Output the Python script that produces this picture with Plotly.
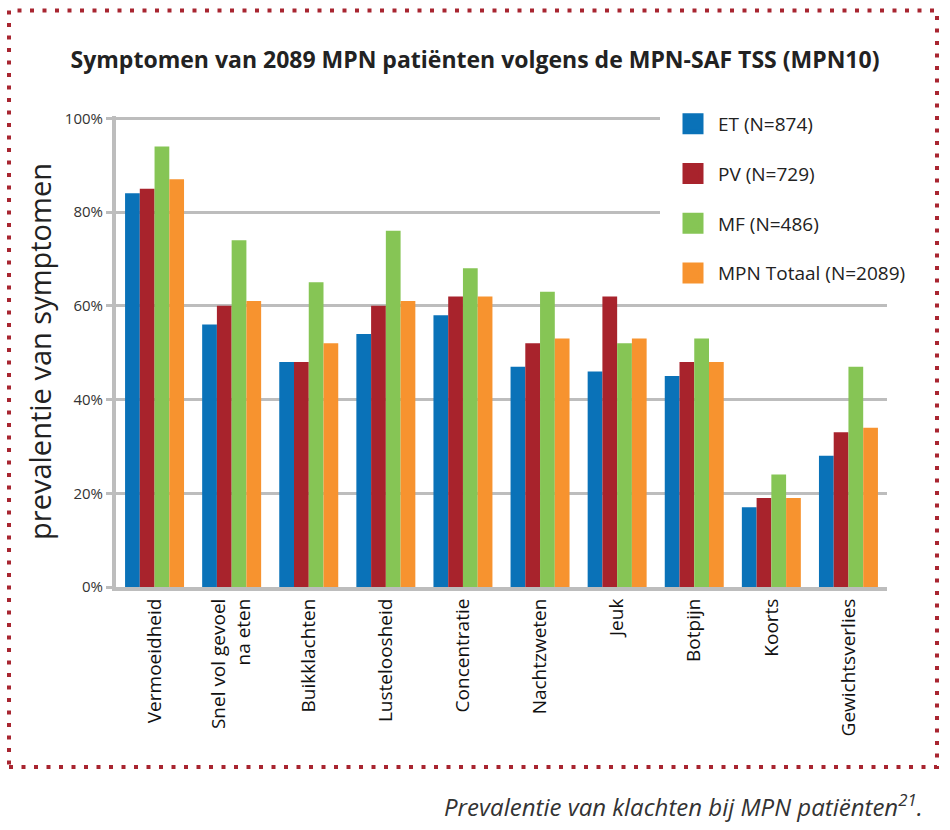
import plotly.graph_objects as go

categories = ["Vermoeidheid", "Snel vol gevoel<br>na eten", "Buikklachten", "Lusteloosheid",
              "Concentratie", "Nachtzweten", "Jeuk", "Botpijn", "Koorts", "Gewichtsverlies"]
series_names = ["ET (N=874)", "PV (N=729)", "MF (N=486)", "MPN Totaal (N=2089)"]
et_values = [84, 56, 48, 54, 58, 47, 46, 45, 17, 28]
pv_values = [85, 60, 48, 60, 62, 52, 62, 48, 19, 33]
mf_values = [94, 74, 65, 76, 68, 63, 52, 53, 24, 47]
totaal_values = [87, 61, 52, 61, 62, 53, 53, 48, 19, 34]
y_ticks = [0, 20, 40, 60, 80, 100]
y_tick_labels = ["0%", "20%", "40%", "60%", "80%", "100%"]
colors = ["#0a72b8", "#a8232c", "#86c555", "#f7932f"]

all_values = [et_values, pv_values, mf_values, totaal_values]

# layout geometry (pixels)
W, H = 950, 830
ML, MR, MT, MB = 116, 63, 116, 243
PW, PH = W - ML - MR, H - MT - MB


def px2x(px):
    return (px - ML) / PW


def py2y(py):
    return (H - MB - py) / PH


fig = go.Figure()
for name, vals, col in zip(series_names, all_values, colors):
    fig.add_trace(go.Bar(x=categories, y=vals, name=name, marker=dict(color=col, line=dict(width=0)),
                         showlegend=False, legendgroup=name))
    fig.add_trace(go.Scatter(x=[None], y=[None], mode="markers", name=name, legendgroup=name,
                             marker=dict(symbol="square", size=16, color=col, line=dict(color=col, width=5))))

FONT = "Open Sans, Noto Sans, sans-serif"
GRID = "#bdbdbd"

fig.update_layout(
    width=W, height=H,
    margin=dict(l=ML, r=MR, t=MT, b=MB, autoexpand=False),
    paper_bgcolor="white", plot_bgcolor="white",
    barmode="group", bargap=0.235, bargroupgap=0,
    font=dict(family=FONT, color="#222222"),
    title=dict(text="<b>Symptomen van 2089 MPN patiënten volgens de MPN-SAF TSS (MPN10)</b>",
               x=0.5, xref="container", xanchor="center",
               y=1 - 60 / H, yref="container", yanchor="middle",
               font=dict(size=23, color="#222222", family=FONT)),
    legend=dict(x=px2x(668), y=py2y(105), xanchor="left", yanchor="top",
                bgcolor="rgba(0,0,0,0)", borderwidth=0, tracegroupgap=22,
                itemwidth=40, font=dict(size=19, color="#222222", family=FONT),
                traceorder="grouped"),
    xaxis=dict(type="category", categoryorder="array", categoryarray=categories,
               showline=True, linecolor=GRID, linewidth=4, ticks="", showgrid=False,
               tickangle=-90, tickfont=dict(size=19, color="#111111", family=FONT),
               automargin=False),
    yaxis=dict(range=[0, 100.5], tickvals=y_ticks, ticktext=y_tick_labels,
               showgrid=True, gridcolor=GRID, gridwidth=3, zeroline=False,
               showline=True, linecolor=GRID, linewidth=4,
               ticks="outside", ticklen=6, tickwidth=3, tickcolor=GRID,
               tickfont=dict(size=15, color="#333333", family=FONT),
               title=dict(text="prevalentie van symptomen", standoff=6,
                          font=dict(size=29, color="#222222", family=FONT)),
               automargin=False),
    shapes=[
        # white panel behind the legend (hides the gridlines there)
        dict(type="rect", xref="paper", yref="paper",
             x0=px2x(660), x1=px2x(895), y0=py2y(298), y1=py2y(105),
             line=dict(width=0), fillcolor="white", layer="above"),
        # dotted frame
        dict(type="rect", xref="paper", yref="paper",
             x0=px2x(9), x1=px2x(937), y0=py2y(767), y1=py2y(10.5),
             line=dict(color="#a82530", width=4, dash="4px,8.5px"),
             fillcolor="rgba(0,0,0,0)", layer="above"),
    ],
    annotations=[dict(text="Prevalentie van klachten bij MPN patiënten<sup>21</sup>.",
                      xref="paper", yref="paper", x=px2x(925), y=py2y(805),
                      xanchor="right", yanchor="middle", showarrow=False,
                      font=dict(size=24, color="#333333", family=FONT, style="italic"))],
)

fig.write_html("out.html")
